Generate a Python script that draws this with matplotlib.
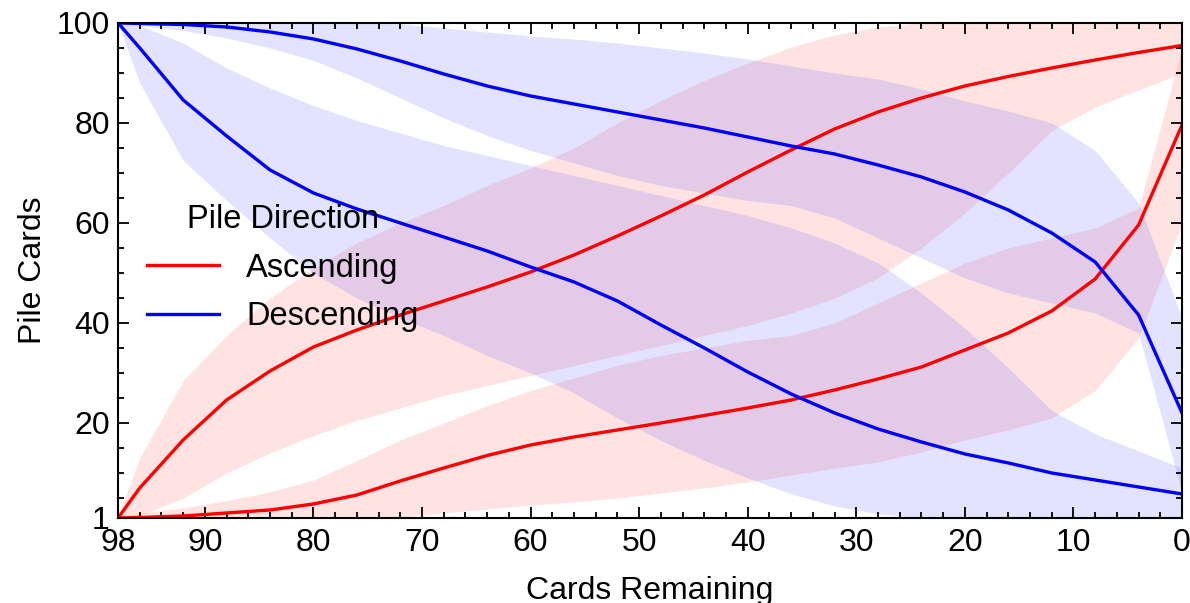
import matplotlib
matplotlib.use("Agg")
import matplotlib.pyplot as plt
from matplotlib.ticker import MultipleLocator, FixedLocator

plt.rcParams['font.family'] = ['Liberation Sans', 'DejaVu Sans']

# cards remaining in the deck
cards_left = [98, 96, 92, 88, 84, 80, 76, 72, 68, 64, 60, 56, 52, 48, 44, 40, 36, 32, 28, 24, 20, 16, 12, 8, 4, 0]

# ascending piles: one pile filled early, one late
asc_early = [1, 7, 16.6, 24.6, 30.4, 35.2, 38.6, 41.6, 44.4, 47.2, 50.2, 53.6, 57.4, 61.4, 65.6, 70.2, 74.6, 78.8, 82.2, 85.0, 87.4, 89.3, 91.0, 92.6, 94.1, 95.5]
asc_early_lo = [1, 1.5, 5, 10, 14, 17.5, 20.5, 23, 25.5, 27.5, 29.5, 31.5, 33.5, 35.5, 37.5, 39.5, 42, 45, 49, 55, 62, 70, 78.5, 83.2, 86.6, 90]
asc_early_hi = [1, 13, 28.5, 37.5, 45, 51, 56, 60, 63.5, 67.5, 71, 75, 80, 84.5, 88.5, 92, 95.2, 97.6, 99.2, 100, 100, 100, 100, 100, 100, 100]

asc_late = [1, 1.1, 1.4, 2.0, 2.6, 3.8, 5.6, 8.4, 11.0, 13.5, 15.6, 17.2, 18.6, 20.0, 21.5, 23.0, 24.6, 26.6, 28.8, 31.2, 34.6, 38.0, 42.4, 48.8, 59.6, 79.6]
asc_late_lo = [1, 1, 1, 1, 1, 1, 1, 1.2, 2, 2.8, 3.6, 4.2, 5, 6, 7, 8.2, 9.6, 11, 12.2, 14.2, 16.6, 18.6, 21, 26.5, 37, 60]
asc_late_hi = [1, 2, 3, 4.5, 6.2, 8.6, 12.5, 16.6, 20, 23.5, 26.5, 29, 31.5, 33.5, 35, 36.5, 37.5, 40, 44, 48, 52, 55, 57, 59, 63, 95]

# descending piles
desc_late = [100, 99.9, 99.7, 99.2, 98.2, 96.8, 94.8, 92.4, 89.8, 87.4, 85.4, 83.8, 82.2, 80.6, 79.0, 77.2, 75.4, 73.8, 71.6, 69.2, 66.2, 62.6, 58.0, 52.2, 41.6, 22]
desc_late_lo = [100, 99.5, 98.5, 97, 95, 92.5, 89, 85, 81, 77.5, 74.5, 72, 69.5, 67.5, 66, 64.5, 63.5, 61, 57, 53, 49, 46, 44, 42, 38, 6]
desc_late_hi = [100, 100, 100, 100, 100, 100, 100, 99.8, 99, 98.2, 97.4, 96.8, 96, 95, 94, 92.8, 91.4, 90, 88.8, 86.8, 84.4, 82.4, 80, 74.5, 64, 41]

desc_early = [100, 95, 84.6, 77.4, 70.6, 66, 62.8, 60, 57.2, 54.4, 51.2, 48.2, 44.4, 39.6, 35, 30.2, 25.8, 22, 18.8, 16.2, 13.8, 12, 10, 8.6, 7.2, 5.8]
desc_early_lo = [100, 88, 72.5, 64.5, 57, 50, 45, 41, 37.5, 33.5, 30, 26, 21, 16.5, 12.5, 9, 5.8, 3.4, 1.8, 1, 1, 1, 1, 1, 1, 1]
desc_early_hi = [100, 99.5, 96, 91, 87, 83.5, 80.5, 78, 75.5, 73.5, 71.5, 69.5, 67.5, 65.5, 63.5, 61.5, 59, 56, 52, 46, 39, 31, 22.5, 17.8, 14.4, 11]

fig = plt.figure(figsize=(11.9, 6.03), dpi=100)
ax = fig.add_axes([0.0992, 0.141, 0.8941, 0.8209])

band_alpha = 0.11
ax.fill_between(cards_left, asc_early_lo, asc_early_hi, color='red', alpha=band_alpha, lw=0)
ax.fill_between(cards_left, asc_late_lo, asc_late_hi, color='red', alpha=band_alpha, lw=0)
ax.fill_between(cards_left, desc_late_lo, desc_late_hi, color='blue', alpha=band_alpha, lw=0)
ax.fill_between(cards_left, desc_early_lo, desc_early_hi, color='blue', alpha=band_alpha, lw=0)

ax.plot(cards_left, asc_early, color='red', lw=2.4, label='Ascending')
ax.plot(cards_left, asc_late, color='red', lw=2.4)
ax.plot(cards_left, desc_late, color='blue', lw=2.4, label='Descending')
ax.plot(cards_left, desc_early, color='blue', lw=2.4)

ax.set_xlim(98, 0)
ax.set_ylim(1, 100)
ax.xaxis.set_major_locator(FixedLocator([98, 90, 80, 70, 60, 50, 40, 30, 20, 10, 0]))
ax.xaxis.set_minor_locator(MultipleLocator(2))
ax.yaxis.set_major_locator(FixedLocator([1, 20, 40, 60, 80, 100]))
ax.yaxis.set_minor_locator(MultipleLocator(5))

ax.tick_params(which='both', direction='in', top=True, right=True, width=1.3, labelsize=23)
ax.tick_params(which='major', length=8)
ax.tick_params(which='minor', length=4.5)
ax.tick_params(axis='x', which='major', pad=7)
ax.tick_params(axis='y', which='major', pad=6)
for s in ax.spines.values():
    s.set_linewidth(1.5)

ax.set_xlabel('Cards Remaining', fontsize=23, labelpad=13)
ax.set_ylabel('Pile Cards', fontsize=23, labelpad=6)

leg = ax.legend(title='Pile Direction', loc='center left', bbox_to_anchor=(0.0, 0.505),
                frameon=False, fontsize=23.5, title_fontsize=23.5, handlelength=2.2,
                handletextpad=0.83, labelspacing=0.54)

fig.savefig('out.png', dpi=100)
